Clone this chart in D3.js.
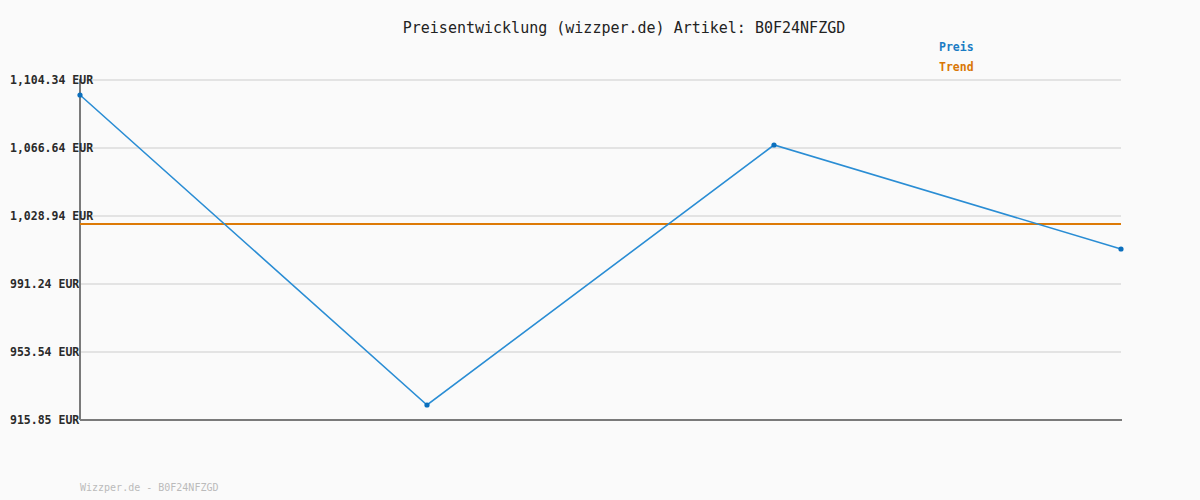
<!DOCTYPE html>
<html>
<head>
<meta charset="utf-8">
<style>
  body { margin: 0; background: #fafafa; }
  text { font-family: "DejaVu Sans Mono", monospace; }
</style>
</head>
<body>
<div id="container"></div>
<script src="https://d3js.org/d3.v7.min.js"></script>
<script>
// data
var points = ["p1", "p2", "p3", "p4"];
var prices = [1096.02, 924.17, 1068.31, 1010.65];
var trend = [1024.5, 1024.5, 1024.5, 1024.5];
var yTicks = [915.85, 953.54, 991.24, 1028.94, 1066.64, 1104.34];

var W = 1200, H = 500;
var margin = {top: 80, right: 79, bottom: 80, left: 80};
var width = W - margin.left - margin.right,
    height = H - margin.top - margin.bottom;

var svg = d3.select("#container").append("svg")
  .attr("width", W)
  .attr("height", H)
  .style("background", "#fafafa");

var g = svg.append("g")
  .attr("transform", "translate(" + margin.left + "," + margin.top + ")");

var x = d3.scalePoint().domain(points).range([0, width]);
var y = d3.scaleLinear().domain([915.85, 1104.34]).range([height, 0]);

// grid lines
g.append("g").selectAll("line").data(yTicks).enter().append("line")
  .attr("x1", 0).attr("x2", width)
  .attr("y1", function (d) { return y(d); })
  .attr("y2", function (d) { return y(d); })
  .attr("stroke", "#e3e3e3")
  .attr("stroke-width", 2);

// y labels (left aligned at x=10)
svg.append("g").selectAll("text").data(yTicks).enter().append("text")
  .attr("x", 10)
  .attr("y", function (d) { return margin.top + y(d) + 4; })
  .style("font-size", "11.5px")
  .style("font-weight", "bold")
  .attr("fill", "#2a2a2a")
  .text(function (d) { return d3.format(",.2f")(d) + " EUR"; });

// axes
g.append("line").attr("x1", 0).attr("x2", 0).attr("y1", -1).attr("y2", height)
  .attr("stroke", "#7a7a7a").attr("stroke-width", 2);
g.append("line").attr("x1", 0).attr("x2", width + 1).attr("y1", height).attr("y2", height)
  .attr("stroke", "#7a7a7a").attr("stroke-width", 2);

// trend
var line = d3.line()
  .x(function (d, i) { return x(points[i]); })
  .y(function (d) { return y(d); });

g.append("path").datum(trend)
  .attr("d", line)
  .attr("fill", "none")
  .attr("stroke", "#dd7a06")
  .attr("stroke-width", 2);

// price
g.append("path").datum(prices)
  .attr("d", line)
  .attr("fill", "none")
  .attr("stroke", "#2a8dd4")
  .attr("stroke-width", 1.6);

g.append("g").selectAll("circle").data(prices).enter().append("circle")
  .attr("cx", function (d, i) { return x(points[i]); })
  .attr("cy", function (d) { return y(d); })
  .attr("r", 2.6)
  .attr("fill", "#0b6fbd");

// title
svg.append("text")
  .attr("x", 624).attr("y", 33)
  .attr("text-anchor", "middle")
  .style("font-size", "15px")
  .attr("fill", "#222")
  .text("Preisentwicklung (wizzper.de) Artikel: B0F24NFZGD");

// legend
svg.append("text").attr("x", 939).attr("y", 51)
  .style("font-size", "11.5px").style("font-weight", "bold")
  .attr("fill", "#1b7cc4").text("Preis");
svg.append("text").attr("x", 939).attr("y", 71)
  .style("font-size", "11.5px").style("font-weight", "bold")
  .attr("fill", "#d97706").text("Trend");

// footer
svg.append("text").attr("x", 80).attr("y", 491)
  .style("font-size", "10px")
  .attr("fill", "#bbb")
  .text("Wizzper.de - B0F24NFZGD");
</script>
</body>
</html>
